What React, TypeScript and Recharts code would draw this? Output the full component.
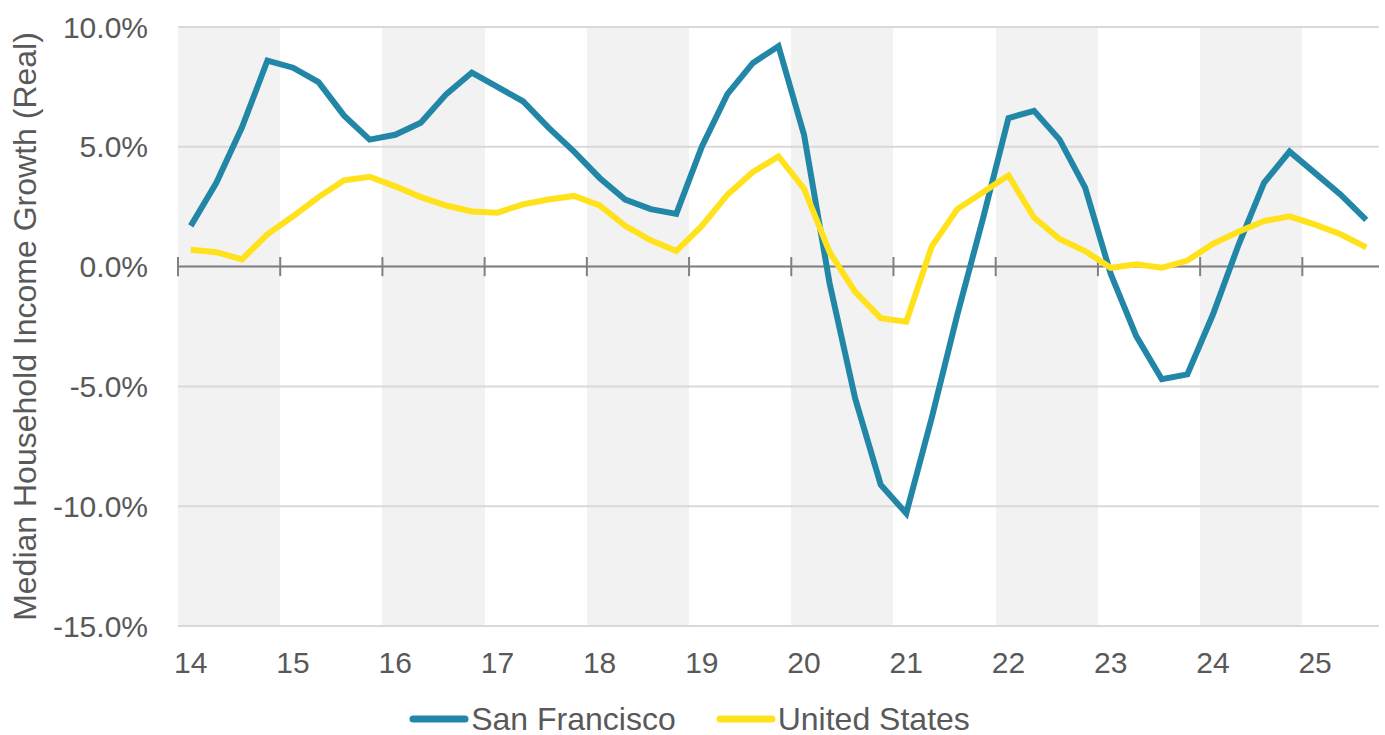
import React from 'react';
import {
  LineChart,
  Line,
  XAxis,
  YAxis,
  CartesianGrid,
  ReferenceLine,
  Legend,
} from 'recharts';

// quarterly, 2014 Q1 .. 2025 Q3
const YEAR_LABELS = ['14', '15', '16', '17', '18', '19', '20', '21', '22', '23', '24', '25'];

const SAN_FRANCISCO = [
  1.7, 3.5, 5.8, 8.6, 8.3, 7.7, 6.3, 5.3, 5.5, 6.0, 7.2, 8.1, 7.5, 6.9, 5.8, 4.8,
  3.7, 2.8, 2.4, 2.2, 5.0, 7.2, 8.5, 9.2, 5.5, -0.7, -5.5, -9.1, -10.3, -6.3, -2.0, 2.0,
  6.2, 6.5, 5.3, 3.3, -0.3, -2.9, -4.7, -4.5, -2.0, 0.9, 3.5, 4.8, 3.9, 3.0, 1.95,
];

const UNITED_STATES = [
  0.7, 0.6, 0.3, 1.35, 2.1, 2.9, 3.6, 3.75, 3.35, 2.9, 2.55, 2.3, 2.25, 2.6, 2.8, 2.95,
  2.55, 1.7, 1.1, 0.65, 1.7, 3.0, 3.95, 4.6, 3.25, 0.6, -1.05, -2.15, -2.3, 0.85, 2.4, 3.1,
  3.8, 2.05, 1.15, 0.65, -0.05, 0.1, -0.05, 0.25, 0.95, 1.45, 1.9, 2.1, 1.75, 1.35, 0.8,
];

const Y_TICKS = [-15, -10, -5, 0, 5, 10];

const data = SAN_FRANCISCO.map((sf, i) => ({ q: i, sf, us: UNITED_STATES[i] }));
const yearTicks = YEAR_LABELS.map((_, i) => i * 4);
const yearEdges = yearTicks.map((t) => t - 0.5);

const FONT = '"Liberation Sans", Arial, sans-serif';
const TEXT = '#595959';
const SF_COLOR = '#2287a7';
const US_COLOR = '#ffe11c';

function LegendContent({ payload }: any) {
  return (
    <div
      style={{
        height: 48,
        boxSizing: 'border-box',
        paddingTop: 16,
        display: 'flex',
        justifyContent: 'center',
        alignItems: 'center',
        fontFamily: FONT,
        fontSize: 32,
        lineHeight: '32px',
        color: TEXT,
      }}
    >
      {(payload || []).map((entry: any, i: number) => (
        <div
          key={entry.value}
          style={{ display: 'flex', alignItems: 'center', marginLeft: i ? 40 : 0 }}
        >
          <svg width={60} height={8} style={{ marginRight: 2 }}>
            <line x1={4} y1={4} x2={56} y2={4} stroke={entry.color} strokeWidth={7} strokeLinecap="round" />
          </svg>
          <span style={{ whiteSpace: 'nowrap' }}>{entry.value}</span>
        </div>
      ))}
    </div>
  );
}

export default function App() {
  return (
    <div style={{ position: 'absolute', left: 0, top: 0, background: '#fff' }}>
      <LineChart
        width={1385}
        height={735}
        data={data}
        margin={{ top: 27, right: 6, left: 0, bottom: 0 }}
      >
        <CartesianGrid
          horizontal={false}
          stroke="transparent"
          verticalValues={yearEdges}
          verticalFill={['#f2f2f2', '#ffffff']}
        />
        <CartesianGrid vertical={false} stroke="#d9d9d9" strokeWidth={2} />
        <XAxis
          dataKey="q"
          type="number"
          domain={[-0.5, 46.5]}
          ticks={yearTicks}
          tickFormatter={(v: number) => YEAR_LABELS[v / 4]}
          axisLine={false}
          tickLine={false}
          tickSize={0}
          tickMargin={26}
          height={61}
          interval={0}
          tick={{ fill: TEXT, fontSize: 30, fontFamily: FONT }}
        />
        <YAxis
          domain={[-15, 10]}
          ticks={Y_TICKS}
          tickFormatter={(v: number) => `${v.toFixed(1)}%`}
          axisLine={false}
          tickLine={false}
          tickSize={0}
          tickMargin={30}
          width={178}
          interval={0}
          tick={{ fill: TEXT, fontSize: 30, fontFamily: FONT }}
          label={{
            value: 'Median Household Income Growth (Real)',
            angle: -90,
            position: 'insideLeft',
            offset: 25,
            style: { textAnchor: 'middle', fill: TEXT, fontSize: 32, fontFamily: FONT },
          }}
        />
        <ReferenceLine y={0} stroke="#808080" strokeWidth={2} />
        {yearEdges.map((x) => (
          <ReferenceLine
            key={x}
            segment={[
              { x, y: -0.4 },
              { x, y: 0.4 },
            ]}
            stroke="#808080"
            strokeWidth={2}
          />
        ))}
        <Line
          type="linear"
          dataKey="sf"
          name="San Francisco"
          stroke={SF_COLOR}
          strokeWidth={6}
          dot={false}
          isAnimationActive={false}
        />
        <Line
          type="linear"
          dataKey="us"
          name="United States"
          stroke={US_COLOR}
          strokeWidth={6}
          dot={false}
          isAnimationActive={false}
        />
        <Legend verticalAlign="bottom" content={<LegendContent />} />
      </LineChart>
    </div>
  );
}
